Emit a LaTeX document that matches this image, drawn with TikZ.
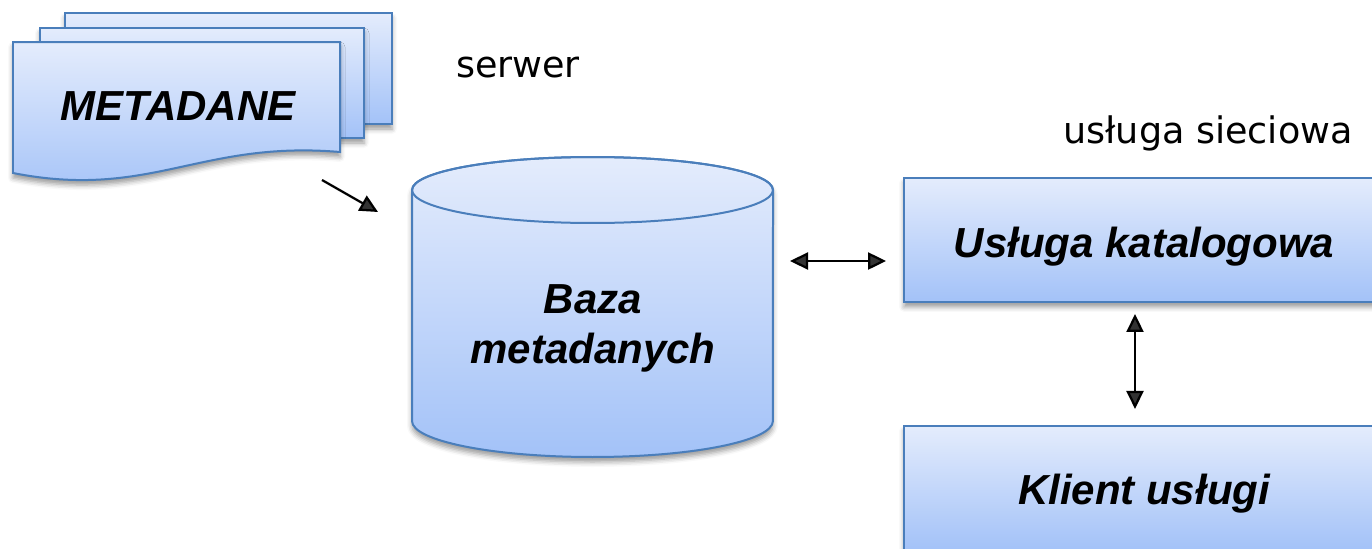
\documentclass[tikz,border=0pt]{standalone}
\usepackage{fontspec}
\setmainfont{Liberation Sans}
\newfontfamily\plainfont{DejaVu Sans}
\usetikzlibrary{arrows.meta,shadows.blur}
\definecolor{boxline}{RGB}{74,126,187}
\definecolor{boxtop}{RGB}{228,236,252}
\definecolor{boxbottom}{RGB}{163,194,248}
\begin{document}
\begin{tikzpicture}[x=0.02cm, y=0.02cm, >={Triangle[length=0.36cm, width=0.34cm]},
    shade/.style={draw=boxline, line width=0.04cm, top color=boxtop, bottom color=boxbottom, blur shadow={shadow xshift=0cm, shadow yshift=-0.1cm, shadow blur radius=0.1cm, shadow opacity=40}},
    bigtext/.style={font=\fontsize{23.9}{28.5}\selectfont\bfseries\itshape},
    box/.style={shade, bigtext, rectangle, minimum width=9.6cm, minimum height=2.48cm, text height=0.68cm, text depth=0cm},
    plaintext/.style={font=\fontsize{20.8}{24}\selectfont\plainfont, anchor=base},
    arr/.style={line width=0.045cm}]
    \useasboundingbox (0,0) rectangle (1372,-548);

    \draw[shade] (65,-13) rectangle (392,-124);
    \draw[shade] (40,-28) rectangle (364,-138);
    \draw[shade] (13,-42) -- (340,-42) -- (340,-152) .. controls (200,-140) and (150,-200) .. (13,-173) -- cycle;
    \node[bigtext] (meta) at (178,-106) {METADANE};

    \draw[shade] (412,-190) -- (412,-421) arc[start angle=180, end angle=360, x radius=3.61cm, y radius=0.72cm] -- (773,-190) arc[start angle=0, end angle=180, x radius=3.61cm, y radius=0.66cm] -- cycle;
    \draw[draw=boxline, line width=0.04cm] (592.5,-190) ellipse [x radius=3.61cm, y radius=0.66cm];
    \node[bigtext, align=center] (baza) at (593,-328) {Baza\\metadanych};

    \node[box] (katalog) at (1144,-240) {Usługa katalogowa};
    \node[box, yshift=-4.96cm] (klient) at (katalog) {Klient usługi};

    \node[plaintext] (serwer) at (518,-77) {serwer};
    \node[plaintext] (siec) at (1208,-143) {usługa sieciowa};

    \coordinate (m-out) at (322,-180);
    \coordinate (b-in) at (378,-212);
    \coordinate (b-right) at (773,-261);
    \coordinate (v) at (1135,-360);

    \draw[arr, ->] (m-out) -- (b-in);
    \draw[arr, <->, shorten <=0.34cm, shorten >=0.34cm] (b-right) -- (katalog.west |- b-right);
    \draw[arr, <->, shorten <=0.22cm, shorten >=0.32cm] (v |- katalog.south) -- (v |- klient.north);
\end{tikzpicture}
\end{document}
